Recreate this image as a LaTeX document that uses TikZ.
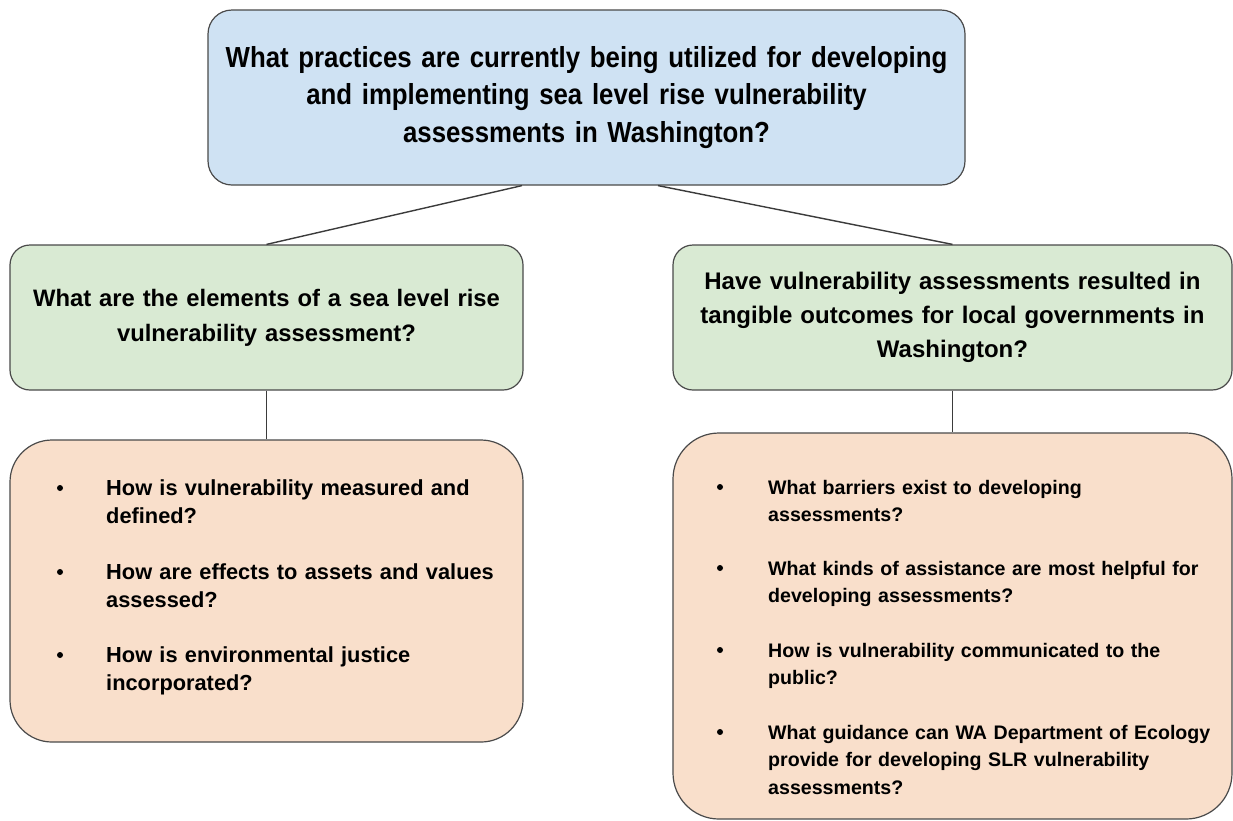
\documentclass[tikz,border=0pt]{standalone}
\usepackage{fontspec}
\setmainfont{Liberation Sans}
\newfontfamily\headfont[FakeStretch=0.89]{Liberation Sans}
\usetikzlibrary{calc}
\definecolor{qblue}{HTML}{CFE2F3}
\definecolor{qgreen}{HTML}{D9EAD3}
\definecolor{qpeach}{HTML}{F9DFCB}
\definecolor{qline}{HTML}{4A4A4A}
\begin{document}
\begin{tikzpicture}[x=1pt,y=-1pt,
  box/.style={draw=qline, line width=1.2pt, rounded corners=#1, inner sep=0pt, align=center},
  box/.default=20pt,
  item/.style={anchor=base west, align=left, inner sep=0pt, text width=#1,
    font=\bfseries\fontsize{21.8}{28}\selectfont},
  dot/.style={circle, fill=black, inner sep=0pt, minimum size=6pt},
  link/.style={draw=qline!80!black, line width=1.4pt}
]
\useasboundingbox (0,0) rectangle (1233,820);
\clip (0,0) rectangle (1233,820);

% main question
\node[box=24pt, fill=qblue, minimum width=757pt, minimum height=175pt, text width=745pt,
  font=\headfont\bfseries\fontsize{29}{37.5}\selectfont] (top) at (586.5,97.5)
  {What practices are currently being utilized for developing\\
   and implementing sea level rise vulnerability\\
   assessments in Washington?};

% sub-questions
\node[box=20pt, fill=qgreen, minimum width=513pt, minimum height=145pt, text width=505pt,
  font=\bfseries\fontsize{23.8}{35}\selectfont] (lq) at (266.5,317.5)
  {What are the elements of a sea level rise\\ vulnerability assessment?};
\node[box=20pt, fill=qgreen, minimum width=559pt, minimum height=145pt, text width=555pt,
  font=\bfseries\fontsize{24}{34}\selectfont] (rq) at (952.5,317.5)
  {Have vulnerability assessments resulted in\\ tangible outcomes for local governments in\\ Washington?};

% detail boxes
\node[box=42pt, fill=qpeach, minimum width=513pt, minimum height=302pt] (lb) at (266.5,591) {};
\node[box=46pt, fill=qpeach, minimum width=559pt, minimum height=386pt] (rb) at (952.5,626) {};

% connectors
\draw[link] ($(top.south)+(-64.5,0)$) -- (lq.north);
\draw[link] ($(top.south)+(71.5,0)$) -- (rq.north);
\draw[link] (lq.south) -- (lb.north);
\draw[link] (rq.south) -- (rb.north);

% left bullet list
\node[item=410pt] (l1) at (106,495) {How is vulnerability measured and\\defined?};
\node[item=410pt] (l2) at (106,579) {How are effects to assets and values\\assessed?};
\node[item=410pt] (l3) at (106,662) {How is environmental justice\\incorporated?};
\foreach \n in {l1,l2,l3}
  \node[dot] (d\n) at ([xshift=-46pt,yshift=7pt]\n.base west) {};

% right bullet list
\begin{scope}[item/.append style={font=\bfseries\fontsize{19.6}{27.5}\selectfont}]
\node[item=460pt] (r1) at (768,494) {What barriers exist to developing\\assessments?};
\node[item=460pt] (r2) at (768,575) {What kinds of assistance are most helpful for\\developing assessments?};
\node[item=460pt] (r3) at (768,657) {How is vulnerability communicated to the\\public?};
\node[item=460pt] (r4) at (768,739) {What guidance can WA Department of Ecology\\provide for developing SLR vulnerability\\assessments?};
\end{scope}
\foreach \n in {r1,r2,r3,r4}
  \node[dot] (d\n) at ([xshift=-48pt,yshift=7pt]\n.base west) {};
\end{tikzpicture}
\end{document}
